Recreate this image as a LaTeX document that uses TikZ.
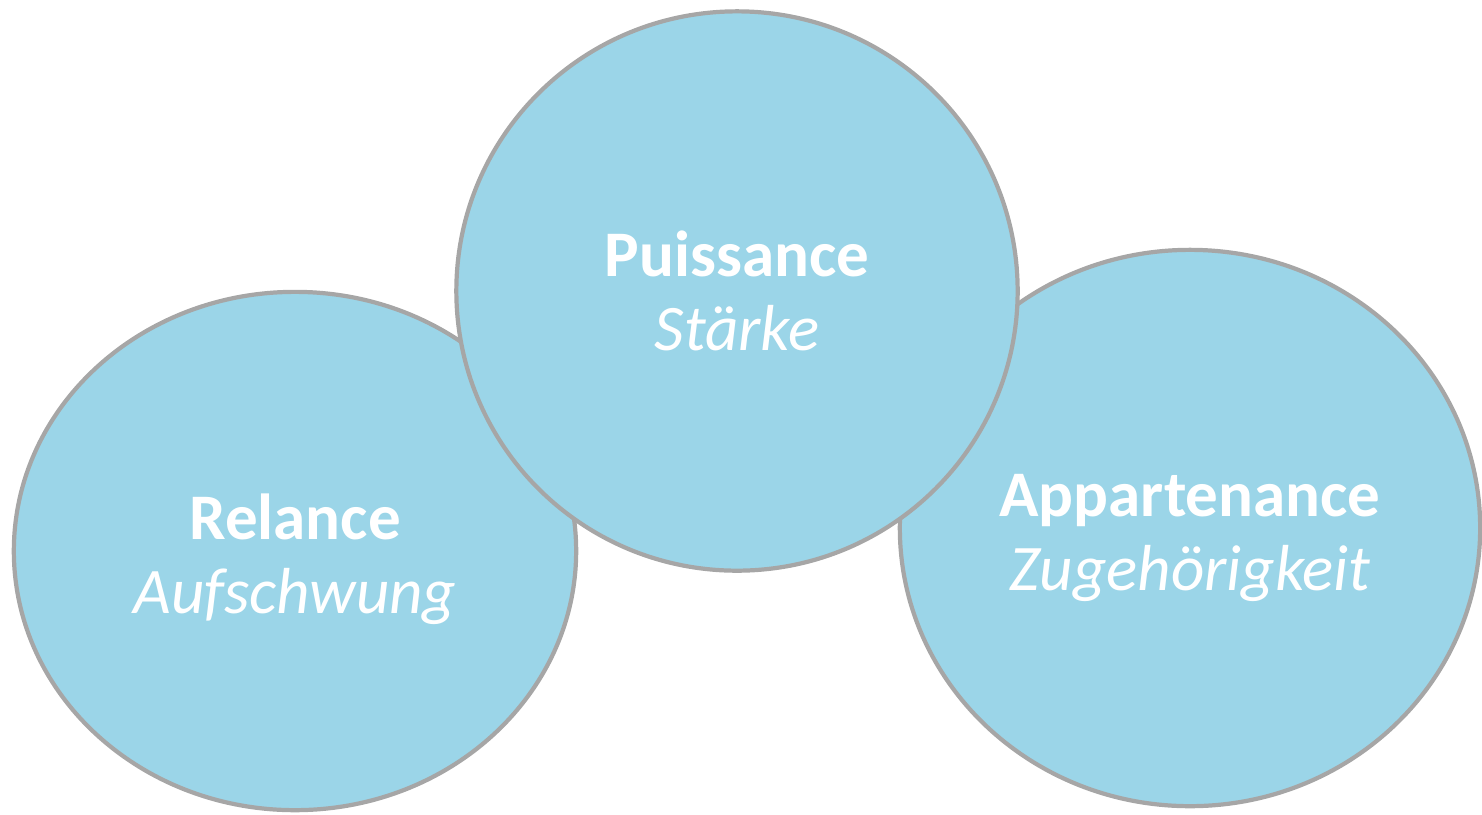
\documentclass[tikz,border=0pt]{standalone}
\usepackage{fontspec}
\setmainfont{Carlito}
\usetikzlibrary{shapes.geometric}
\definecolor{bubblefill}{HTML}{9BD5E8}
\definecolor{bubbleline}{HTML}{A6A6A6}
\begin{document}
\begin{tikzpicture}[x=0.01cm, y=-0.01cm, bubble/.style = {draw=bubbleline, fill=bubblefill, line width=1.2pt, ellipse, inner sep=0pt}, caption/.style = {text=white, align=center, font=\fontsize{18.5}{21}\selectfont}]

		\useasboundingbox (0,0) rectangle (1482,814);

		\node[bubble, minimum width=5.62cm, minimum height=5.18cm] (relance) at (295,551) {};
		\node[bubble, minimum width=5.80cm, minimum height=5.56cm] (appartenance) at (1190,528) {};
		\node[bubble, minimum width=5.61cm, minimum height=5.59cm] (puissance) at (737,291) {};

		\node[caption] (relancetext) at ([yshift=-0.08cm]relance.center) {\textbf{Relance}\\\textit{Aufschwung}};
		\node[caption] (appartenancetext) at ([yshift=-0.1cm]appartenance.center) {\textbf{Appartenance}\\\textit{Zugehörigkeit}};
		\node[caption] (puissancetext) at (puissance.center) {\textbf{Puissance}\\\textit{Stärke}};
	\end{tikzpicture}
\end{document}
